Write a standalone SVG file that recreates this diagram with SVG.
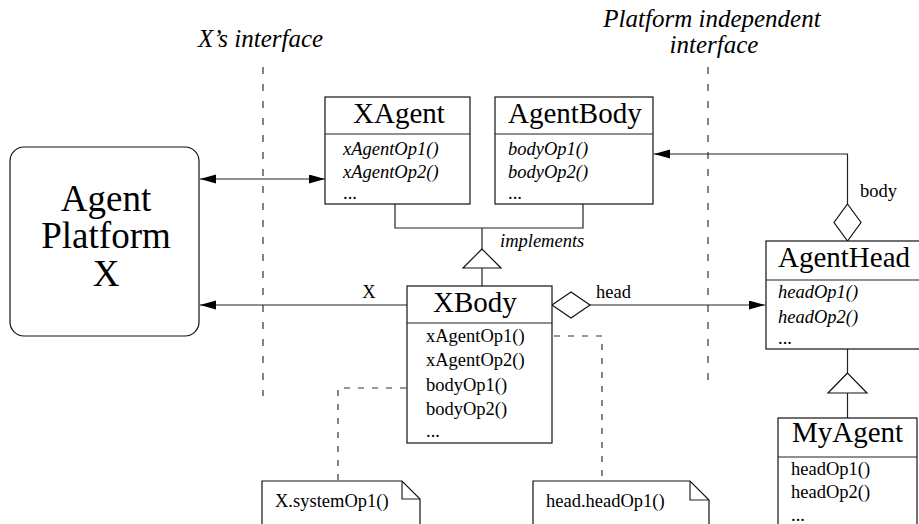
<svg xmlns="http://www.w3.org/2000/svg" width="919" height="524" viewBox="0 0 919 524">
  <style>
    .box { fill: #fff; stroke: #111; stroke-width: 1.2; }
    .ln { fill: none; stroke: #222; stroke-width: 1.2; }
    .open { fill: #fff; stroke: #111; stroke-width: 1.2; }
    .dash { fill: none; stroke: #333; stroke-width: 1.2; stroke-dasharray: 7 10; }
    .dash2 { fill: none; stroke: #333; stroke-width: 1.2; stroke-dasharray: 6 8; }
    text { font-family: "Liberation Serif", "Times New Roman", serif; fill: #000; }
    .title { font-size: 29px; }
    .big { font-size: 37px; }
    .op { font-size: 18.5px; }
    .it { font-style: italic; }
    .lbl { font-size: 18.5px; }
    .hdr { font-size: 25px; font-style: italic; }
  </style>
  <defs>
    <marker id="arrow" markerUnits="userSpaceOnUse" markerWidth="17" markerHeight="10" refX="16" refY="4.5" orient="auto-start-reverse">
      <path d="M0,0 L16,4.5 L0,9 z" fill="#000"/>
    </marker>
  </defs>

  <!-- interface boundaries -->
  <g id="boundaries">
    <text class="hdr" x="198" y="47">X’s interface</text>
    <line class="dash" x1="263" y1="67" x2="263" y2="396"/>
    <text class="hdr" x="712" y="27" text-anchor="middle">Platform independent</text>
    <text class="hdr" x="714" y="53" text-anchor="middle">interface</text>
    <line class="dash" x1="708" y1="67" x2="708" y2="390"/>
  </g>

  <!-- connectors -->
  <g id="connectors">
    <line class="ln" x1="200" y1="179" x2="325" y2="179" marker-start="url(#arrow)" marker-end="url(#arrow)"/>
    <line class="ln" x1="407" y1="305" x2="200" y2="305" marker-end="url(#arrow)"/>
    <text class="lbl" x="369" y="298" text-anchor="middle">X</text>

    <!-- implements -->
    <polyline class="ln" points="395,204 395,228 583,228 583,204"/>
    <line class="ln" x1="482" y1="228" x2="482" y2="249"/>
    <polygon class="open" points="482,249 463,268 501,268"/>
    <line class="ln" x1="482" y1="268" x2="482" y2="286"/>
    <text class="lbl it" x="500" y="247">implements</text>

    <!-- head aggregation -->
    <line class="ln" x1="590" y1="305" x2="765" y2="305" marker-end="url(#arrow)"/>
    <polygon class="open" points="552,305 571,292 590,305 571,318"/>
    <text class="lbl" x="596" y="298">head</text>

    <!-- body aggregation -->
    <polyline class="ln" points="847.5,204 847.5,154 654,154" marker-end="url(#arrow)"/>
    <polygon class="open" points="847.5,204 861,222.5 847.5,241 834,222.5"/>
    <text class="lbl" x="860" y="197">body</text>

    <!-- MyAgent generalization -->
    <line class="ln" x1="847.5" y1="349" x2="847.5" y2="373"/>
    <polygon class="open" points="847.5,373 828,393 867,393"/>
    <line class="ln" x1="847.5" y1="393" x2="847.5" y2="418"/>

    <!-- note links -->
    <polyline class="dash2" points="540,336 602,336 602,481"/>
    <polyline class="dash2" points="420,388 338,388 338,481"/>
  </g>

  <g id="agent-platform">
    <rect class="box" x="10" y="147" width="189" height="189" rx="14"/>
    <text class="big" x="106" y="211" text-anchor="middle">Agent</text>
    <text class="big" x="106" y="248" text-anchor="middle">Platform</text>
    <text class="big" x="106" y="286" text-anchor="middle">X</text>
  </g>

  <g id="xagent">
    <rect class="box" x="325" y="97" width="145" height="107"/>
    <line class="ln" x1="325" y1="134" x2="470" y2="134"/>
    <text class="title" x="353" y="123">XAgent</text>
    <text class="op it" x="343" y="155">xAgentOp1()</text>
    <text class="op it" x="343" y="178">xAgentOp2()</text>
    <text class="op" x="343" y="199">...</text>
  </g>

  <g id="agentbody">
    <rect class="box" x="495" y="97" width="158" height="107"/>
    <line class="ln" x1="495" y1="134" x2="653" y2="134"/>
    <text class="title" x="508" y="123">AgentBody</text>
    <text class="op it" x="508" y="155">bodyOp1()</text>
    <text class="op it" x="508" y="178">bodyOp2()</text>
    <text class="op" x="508" y="199">...</text>
  </g>

  <g id="xbody">
    <rect class="box" x="407" y="286" width="145" height="157"/>
    <line class="ln" x1="407" y1="323" x2="552" y2="323"/>
    <text class="title" x="433" y="312">XBody</text>
    <text class="op" x="426" y="342">xAgentOp1()</text>
    <text class="op" x="426" y="366">xAgentOp2()</text>
    <text class="op" x="426" y="391">bodyOp1()</text>
    <text class="op" x="426" y="415">bodyOp2()</text>
    <text class="op" x="426" y="437">...</text>
  </g>

  <g id="agenthead">
    <rect class="box" x="766" y="241" width="160" height="108"/>
    <line class="ln" x1="766" y1="280" x2="926" y2="280"/>
    <text class="title" x="778" y="267">AgentHead</text>
    <text class="op it" x="778" y="298">headOp1()</text>
    <text class="op it" x="778" y="323">headOp2()</text>
    <text class="op" x="778" y="344">...</text>
  </g>

  <g id="myagent">
    <rect class="box" x="778" y="418" width="139" height="120"/>
    <line class="ln" x1="778" y1="457" x2="917" y2="457"/>
    <text class="title" x="792" y="442">MyAgent</text>
    <text class="op" x="791" y="475">headOp1()</text>
    <text class="op" x="791" y="498">headOp2()</text>
    <text class="op" x="791" y="521">...</text>
  </g>

  <g id="note-system">
    <path class="box" d="M262,530 L262,481 L402,481 L420,499 L420,530"/>
    <path class="ln" d="M402,481 L402,499 L420,499"/>
    <text class="op" x="275" y="507">X.systemOp1()</text>
  </g>

  <g id="note-head">
    <path class="box" d="M533,530 L533,481 L690,481 L709,500 L709,530"/>
    <path class="ln" d="M690,481 L690,500 L709,500"/>
    <text class="op" x="546" y="507">head.headOp1()</text>
  </g>
</svg>
